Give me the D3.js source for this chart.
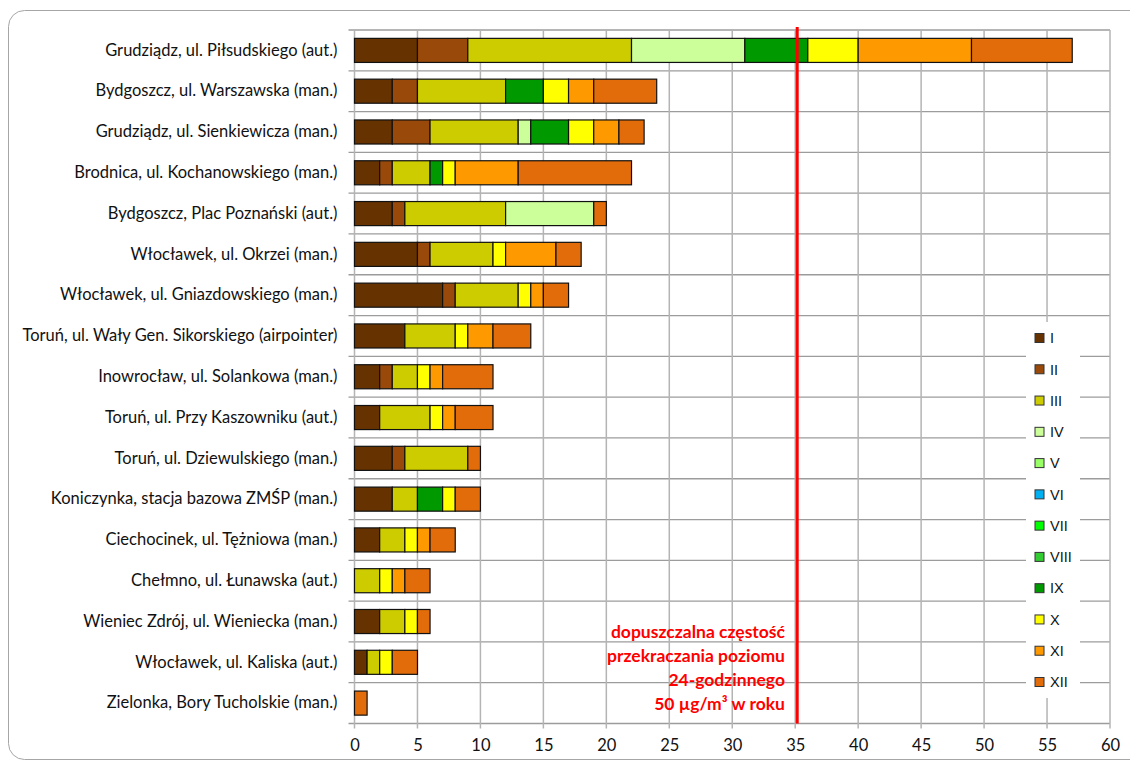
<!DOCTYPE html>
<html><head><meta charset="utf-8">
<script src="https://cdn.jsdelivr.net/npm/d3@7"></script>
<style>body{margin:0;background:#fff}svg{display:block}</style>
</head><body>
<svg id="c" width="1130" height="762"></svg>
<script>
const stations = [
  "Grudziądz, ul. Piłsudskiego (aut.)",
  "Bydgoszcz, ul. Warszawska (man.)",
  "Grudziądz, ul. Sienkiewicza (man.)",
  "Brodnica, ul. Kochanowskiego (man.)",
  "Bydgoszcz, Plac Poznański (aut.)",
  "Włocławek, ul. Okrzei (man.)",
  "Włocławek, ul. Gniazdowskiego (man.)",
  "Toruń, ul. Wały Gen. Sikorskiego (airpointer)",
  "Inowrocław, ul. Solankowa (man.)",
  "Toruń, ul. Przy Kaszowniku (aut.)",
  "Toruń, ul. Dziewulskiego (man.)",
  "Koniczynka, stacja bazowa ZMŚP (man.)",
  "Ciechocinek, ul. Tężniowa (man.)",
  "Chełmno, ul. Łunawska (aut.)",
  "Wieniec Zdrój, ul. Wieniecka (man.)",
  "Włocławek, ul. Kaliska (aut.)",
  "Zielonka, Bory Tucholskie (man.)"
];
const months = ["I","II","III","IV","V","VI","VII","VIII","IX","X","XI","XII"];
const monthColors = ["#663300","#994A0A","#CCCC00","#CCFF99","#99FF66","#00B0F0","#00FF00","#33CC33","#009900","#FFFF00","#FF9900","#E36C0A"];
// values per month, one entry per station (same order as stations)
const mI    = [5,3,3,2,3,5,7,4,2,2,3,3,2,0,2,1,0];
const mII   = [4,2,3,1,1,1,1,0,1,0,1,0,0,0,0,0,0];
const mIII  = [13,7,7,3,8,5,5,4,2,4,5,2,2,2,2,1,0];
const mIV   = [9,0,1,0,7,0,0,0,0,0,0,0,0,0,0,0,0];
const mV    = [0,0,0,0,0,0,0,0,0,0,0,0,0,0,0,0,0];
const mVI   = [0,0,0,0,0,0,0,0,0,0,0,0,0,0,0,0,0];
const mVII  = [0,0,0,0,0,0,0,0,0,0,0,0,0,0,0,0,0];
const mVIII = [0,0,0,0,0,0,0,0,0,0,0,0,0,0,0,0,0];
const mIX   = [5,3,3,1,0,0,0,0,0,0,0,2,0,0,0,0,0];
const mX    = [4,2,2,1,0,1,1,1,1,1,0,1,1,1,1,1,0];
const mXI   = [9,2,2,5,0,4,1,2,1,1,0,0,1,1,0,0,0];
const mXII  = [8,5,2,9,1,2,2,3,4,3,1,2,2,2,1,2,1];
const xTicks = [0,5,10,15,20,25,30,35,40,45,50,55,60];
const limitValue = 35;
const annotationLines = ["dopuszczalna częstość","przekraczania poziomu","24-godzinnego","50 µg/m³ w roku"];

const series = [mI,mII,mIII,mIV,mV,mVI,mVII,mVIII,mIX,mX,mXI,mXII];
const table = stations.map((s,i)=>{const o={station:s}; months.forEach((m,j)=>o[m]=series[j][i]); return o;});
const stacked = d3.stack().keys(months)(table);

const svg = d3.select("#c");
const L=354.5, R=1110, T=30, B=723.5;
const x = d3.scaleLinear().domain([0,60]).range([L,R]);
const y = d3.scaleBand().domain(stations).range([T,B]).paddingInner(0.41).paddingOuter(0.205);
const font = "Lato, 'Open Sans', sans-serif";

// outer frame
svg.append("rect").attr("x",8.5).attr("y",10.5).attr("width",1140).attr("height",749).attr("rx",16)
  .attr("fill","#fff").attr("stroke","#a6a6a6").attr("stroke-width",1);

const grid = svg.append("g");
const bounds = stations.map((s,i)=>T + i*(B-T)/stations.length).concat([B]);
grid.selectAll("line.h").data(bounds).join("line")
  .attr("x1",L-6).attr("x2",R).attr("y1",d=>d).attr("y2",d=>d)
  .attr("stroke","#9c9c9c").attr("stroke-width",1.3);
grid.selectAll("line.v").data(xTicks).join("line")
  .attr("x1",d=>x(d)).attr("x2",d=>x(d)).attr("y1",T).attr("y2",B+5)
  .attr("stroke","#b4b4b4").attr("stroke-width",1.5);

// bars
svg.append("g").selectAll("g").data(stacked).join("g")
  .attr("fill",(d,i)=>monthColors[i])
  .selectAll("rect").data(d=>d.filter(p=>p[1]-p[0]>0)).join("rect")
  .attr("x",d=>x(d[0])).attr("width",d=>x(d[1])-x(d[0]))
  .attr("y",d=>y(d.data.station)).attr("height",y.bandwidth())
  .attr("stroke","#111").attr("stroke-width",1.2);

// x tick labels
const xAxis = d3.axisBottom(x).tickValues(xTicks).tickSize(0).tickPadding(0);
const gx = svg.append("g").attr("transform",`translate(0,${B+16})`).call(xAxis);
gx.select(".domain").remove();
gx.selectAll("text").attr("font-family",font).attr("font-size",16.5).attr("fill","#111").attr("dy","0.71em");

// y labels
const yAxis = d3.axisLeft(y).tickSize(0).tickPadding(0);
const gy = svg.append("g").attr("transform",`translate(${L-17},0)`).call(yAxis);
gy.select(".domain").remove();
gy.selectAll("text").attr("font-family",font).attr("font-size",16.5).attr("fill","#111");

// limit line
svg.append("line").attr("x1",x(limitValue)+2).attr("x2",x(limitValue)+2).attr("y1",T-3).attr("y2",B)
  .attr("stroke","#FF0000").attr("stroke-width",3);

// annotation
svg.append("g").selectAll("text").data(annotationLines).join("text")
  .attr("x",785).attr("y",(d,i)=>632+i*24).attr("dy","0.35em")
  .attr("text-anchor","end").attr("font-family",font).attr("font-weight","bold")
  .attr("font-size",17.5).attr("fill","#FF0000").text(d=>d);

// legend
const lg = svg.append("g");
lg.append("rect").attr("x",1026).attr("y",322).attr("width",54).attr("height",376).attr("fill","#fff");
const ly = d3.scalePoint().domain(months).range([338,682]);
const items = lg.selectAll("g").data(months).join("g").attr("transform",d=>`translate(1035,${ly(d)})`);
items.append("rect").attr("x",0).attr("y",-4.5).attr("width",9).attr("height",9)
  .attr("fill",(d,i)=>monthColors[i]).attr("stroke","#333").attr("stroke-width",1);
items.append("text").attr("x",15).attr("dy","0.36em").attr("font-family","'Liberation Sans', Arial, sans-serif")
  .attr("font-size",14.5).attr("fill","#111").text(d=>d);
</script>
</body></html>
